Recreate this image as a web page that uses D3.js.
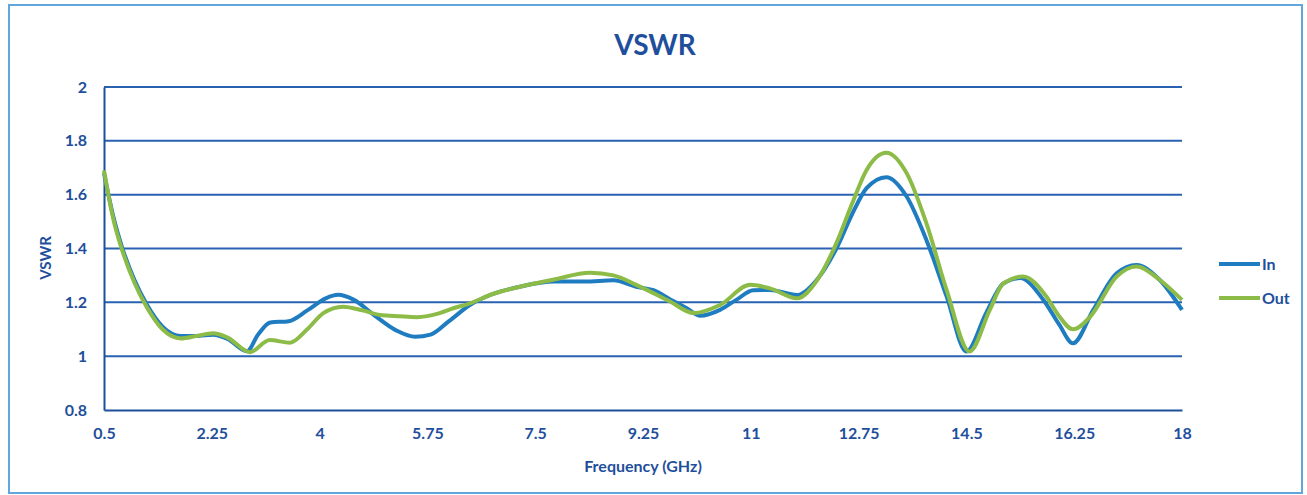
<!DOCTYPE html>
<html>
<head>
<meta charset="utf-8">
<script src="https://cdn.jsdelivr.net/npm/d3@7"></script>
<style>
    body { margin: 0; background: #fff; }
    text { font-family: Lato, "Open Sans", sans-serif; fill: #1f4f9c; font-weight: bold; }
</style>
</head>
<body>
<div id="chart"></div>
<script>
// frequency (GHz) / VSWR
let freqIn = [0.5, 0.65, 0.8, 1.0, 1.2, 1.45, 1.75, 2.0, 2.27, 2.5, 2.82, 3.0, 3.2, 3.5, 3.8, 4.1, 4.3, 4.55, 4.9, 5.25, 5.55, 5.8, 6.1, 6.44, 6.8, 7.25, 7.8, 8.3, 8.77, 9.14, 9.42, 9.7, 9.96, 10.18, 10.5, 10.77, 11.04, 11.31, 11.75, 12.07, 12.39, 12.65, 12.88, 13.2, 13.53, 13.85, 14.18, 14.5, 14.82, 15.1, 15.37, 15.75, 16.0, 16.23, 16.56, 16.94, 17.26, 17.64, 18.0]
let vswrIn = [1.68, 1.52, 1.40, 1.28, 1.19, 1.11, 1.075, 1.075, 1.08, 1.065, 1.018, 1.08, 1.125, 1.13, 1.17, 1.215, 1.228, 1.21, 1.15, 1.095, 1.072, 1.08, 1.13, 1.19, 1.23, 1.258, 1.277, 1.277, 1.282, 1.258, 1.245, 1.21, 1.178, 1.15, 1.172, 1.21, 1.245, 1.246, 1.227, 1.283, 1.40, 1.53, 1.624, 1.665, 1.593, 1.432, 1.221, 1.017, 1.16, 1.27, 1.29, 1.209, 1.12, 1.048, 1.172, 1.308, 1.339, 1.283, 1.172]

let freqOut = [0.5, 0.65, 0.8, 1.0, 1.2, 1.45, 1.75, 2.0, 2.27, 2.5, 2.87, 3.19, 3.52, 3.8, 4.06, 4.38, 4.7, 4.98, 5.3, 5.58, 5.95, 6.17, 6.44, 6.8, 7.25, 7.79, 8.39, 8.77, 9.14, 9.69, 10.07, 10.5, 10.99, 11.31, 11.75, 12.07, 12.39, 12.65, 12.88, 13.2, 13.53, 13.85, 14.18, 14.55, 14.88, 15.1, 15.42, 15.8, 16.0, 16.23, 16.51, 16.94, 17.26, 17.64, 18.0]
let vswrOut = [1.69, 1.51, 1.39, 1.27, 1.18, 1.10, 1.066, 1.075, 1.085, 1.07, 1.015, 1.06, 1.05, 1.10, 1.16, 1.184, 1.17, 1.153, 1.148, 1.145, 1.16, 1.178, 1.196, 1.23, 1.258, 1.284, 1.31, 1.30, 1.265, 1.203, 1.16, 1.19, 1.265, 1.252, 1.215, 1.28, 1.42, 1.57, 1.692, 1.756, 1.68, 1.494, 1.245, 1.017, 1.172, 1.27, 1.296, 1.221, 1.15, 1.10, 1.147, 1.296, 1.333, 1.283, 1.209]

let xTicks = [0.5, 2.25, 4, 5.75, 7.5, 9.25, 11, 12.75, 14.5, 16.25, 18]
let yTicks = [0.8, 1, 1.2, 1.4, 1.6, 1.8, 2]
let seriesNames = ["In", "Out"]
let seriesColors = ["#1f7cc0", "#8cbc47"]

var svg = d3.select("#chart")
    .append("svg")
        .attr("width", 1307)
        .attr("height", 495)

// outer frame
svg.append("rect")
    .attr("x", 9).attr("y", 5)
    .attr("width", 1293).attr("height", 488)
    .attr("fill", "none")
    .attr("stroke", "#62a6dc")
    .attr("stroke-width", 2)

let plotLeft = 104, plotRight = 1182, plotTop = 87, plotBottom = 410

let xScale = d3.scaleLinear().domain([0.5, 18]).range([plotLeft, plotRight])
let yScale = d3.scaleLinear().domain([0.8, 2]).range([plotBottom, plotTop])

// grid
svg.append("g")
    .selectAll("line")
    .data(yTicks.filter(d => d > 0.8))
    .enter()
    .append("line")
        .attr("x1", plotLeft).attr("x2", plotRight)
        .attr("y1", d => yScale(d)).attr("y2", d => yScale(d))
        .attr("stroke", "#2a62b2")
        .attr("stroke-width", 2)

// axes
let yAxis = svg.append("g")
    .attr("transform", "translate(" + plotLeft + ",0)")
    .call(d3.axisLeft(yScale).tickValues(yTicks).tickSize(0).tickPadding(17).tickFormat(d3.format("")))
yAxis.select(".domain").attr("stroke", "#1d4f9a").attr("stroke-width", 2)
yAxis.selectAll("text").style("font-size", "16px").attr("fill", "#1f4f9c")

let xAxis = svg.append("g")
    .attr("transform", "translate(0," + plotBottom + ")")
    .call(d3.axisBottom(xScale).tickValues(xTicks).tickSize(0).tickPadding(18).tickFormat(d3.format("")))
xAxis.select(".domain").attr("stroke", "#1d4f9a").attr("stroke-width", 2)
xAxis.selectAll("text").style("font-size", "16px").attr("fill", "#1f4f9c")

// lines
let line = d3.line()
    .x(d => xScale(d[0]))
    .y(d => yScale(d[1]))
    .curve(d3.curveMonotoneX)

let dataIn = freqIn.map((f, i) => [f, vswrIn[i]])
let dataOut = freqOut.map((f, i) => [f, vswrOut[i]])

svg.append("path")
    .datum(dataIn)
    .attr("d", line)
    .attr("fill", "none")
    .attr("stroke", seriesColors[0])
    .attr("stroke-width", 4)
    .attr("stroke-linejoin", "round")

svg.append("path")
    .datum(dataOut)
    .attr("d", line)
    .attr("fill", "none")
    .attr("stroke", seriesColors[1])
    .attr("stroke-width", 4)
    .attr("stroke-linejoin", "round")

// titles
svg.append("text")
    .attr("x", 655).attr("y", 55)
    .attr("text-anchor", "middle")
    .style("font-size", "28px")
    .text("VSWR")

svg.append("text")
    .attr("x", 643).attr("y", 472)
    .attr("text-anchor", "middle")
    .style("font-size", "16px")
    .text("Frequency (GHz)")

svg.append("text")
    .attr("transform", "translate(51,258) rotate(-90)")
    .attr("text-anchor", "middle")
    .style("font-size", "15px")
    .text("VSWR")

// legend
let legend = svg.append("g")
    .selectAll("g")
    .data(seriesNames)
    .enter()
    .append("g")
        .attr("transform", (d, i) => "translate(1219," + (264 + i * 34) + ")")

legend.append("line")
    .attr("x1", 0).attr("x2", 41)
    .attr("stroke", (d, i) => seriesColors[i])
    .attr("stroke-width", 4)

legend.append("text")
    .attr("x", 43).attr("y", 6)
    .style("font-size", "16px")
    .text(d => d)
</script>
</body>
</html>
